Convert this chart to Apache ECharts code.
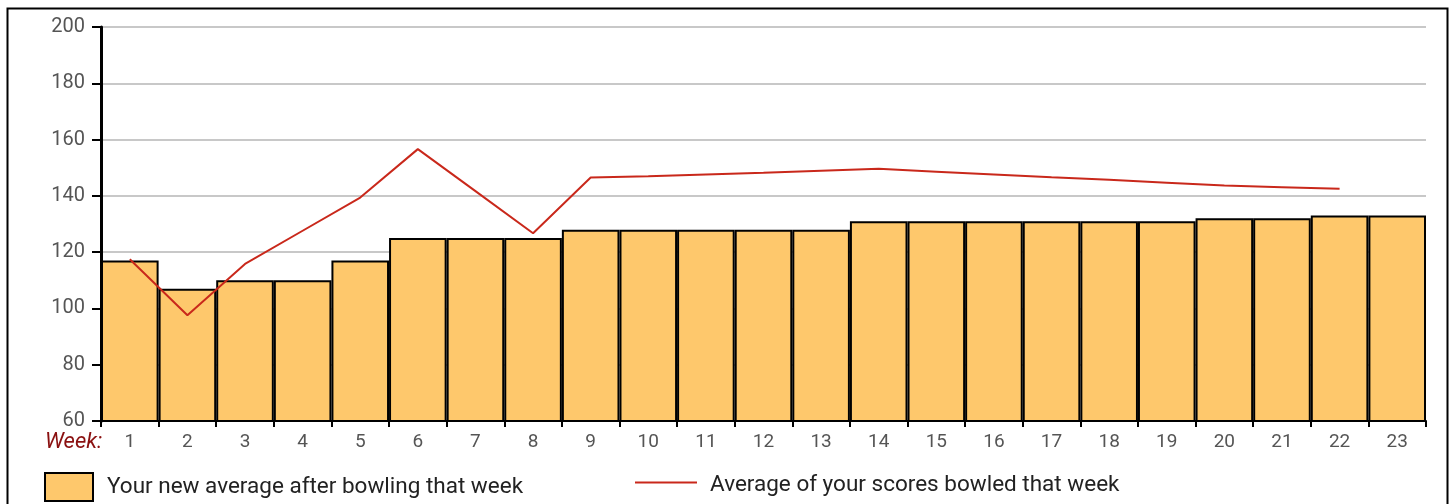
<!DOCTYPE html>
<html>
<head>
<meta charset="utf-8">
<script src="https://cdn.jsdelivr.net/npm/echarts@6/dist/echarts.min.js"></script>
<style>
html,body{margin:0;padding:0;background:#fff;}
#chart{width:1449px;height:504px;}
</style>
</head>
<body>
<div id="chart"></div>
<script>
const weeks = ['1','2','3','4','5','6','7','8','9','10','11','12','13','14','15','16','17','18','19','20','21','22','23'];
const newAverage = [117,107,110,110,117,125,125,125,128,128,128,128,128,131,131,131,131,131,131,132,132,133,133];
const weekAverage = [117.5,97.6,115.8,127.6,139.4,156.6,141.7,126.7,146.5,147.0,147.6,148.2,148.9,149.6,148.6,147.6,146.6,145.7,144.7,143.7,143.1,142.5,null];
const yTicks = {min:60, max:200, interval:20};
const barName = 'Your new average after bowling that week';
const lineName = 'Average of your scores bowled that week';
const FONT = 'Roboto';

const chart = echarts.init(document.getElementById('chart'), null, {renderer:'canvas'});
chart.setOption({
  animation:false,
  textStyle:{fontFamily:FONT},
  grid:{left:101, right:23, top:27, bottom:83, containLabel:false},
  legend:[
    {data:[{name:barName, icon:'rect'}], left:44, top:472, itemWidth:48, itemHeight:28, padding:0,
     textStyle:{fontSize:22.5, color:'#222', fontFamily:FONT, padding:[1,0,0,9]}},
    {data:[{name:lineName, icon:'path://M0,0L62,0L62,2L0,2ZM0,8L0.01,8Z'}], left:635, top:474,
     itemWidth:62, itemHeight:8, padding:0,
     textStyle:{fontSize:22.5, color:'#222', fontFamily:FONT, padding:[0,0,0,8]}}
  ],
  xAxis:{
    type:'category', data:weeks, boundaryGap:true,
    axisLine:{show:true, lineStyle:{color:'#000', width:2}},
    axisTick:{show:true, interval:0, length:6, lineStyle:{color:'#000', width:2}},
    axisLabel:{interval:0, color:'#555', fontSize:19, margin:12, fontFamily:FONT},
    splitLine:{show:false}
  },
  yAxis:{
    type:'value', min:yTicks.min, max:yTicks.max, interval:yTicks.interval,
    axisLine:{show:true, lineStyle:{color:'#000', width:3}},
    axisTick:{show:true, length:9, lineStyle:{color:'#000', width:2}},
    axisLabel:{color:'#555', fontSize:20, margin:16, fontFamily:FONT},
    splitLine:{show:true, lineStyle:{color:'#c8c8c8', width:2}}
  },
  series:[
    {name:barName, type:'bar', data:newAverage, barCategoryGap:'0%', z:2,
     itemStyle:{color:'#fec86c', borderColor:'#000', borderWidth:2}},
    {name:lineName, type:'line', data:weekAverage, symbol:'none', showSymbol:false, z:3,
     lineStyle:{color:'#c9281b', width:2}, itemStyle:{color:'#c9281b'}}
  ],
  graphic:[
    {type:'rect', left:5, top:6, shape:{x:0,y:0,width:1440,height:520},
     style:{fill:'none', stroke:'#000', lineWidth:2}, silent:true},
    {type:'text', left:45, top:431,
     style:{text:'Week:', fill:'#8a1010', font:'italic 22px Roboto'}}
  ]
});
</script>
</body>
</html>
